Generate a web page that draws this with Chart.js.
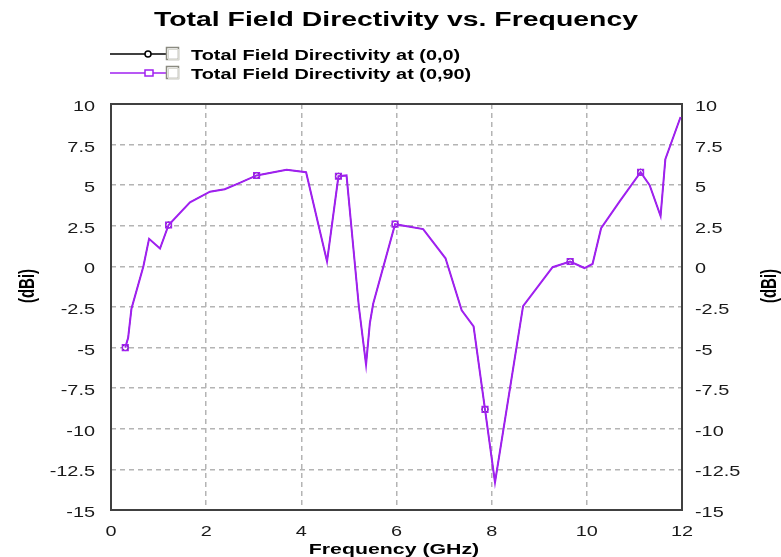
<!DOCTYPE html>
<html>
<head>
<meta charset="utf-8">
<script src="https://cdn.jsdelivr.net/npm/chart.js@4.4.1/dist/chart.umd.min.js"></script>
<style>
  html, body { margin: 0; padding: 0; background: #fff; }
  canvas { display: block; }
</style>
</head>
<body>
<canvas id="chart" width="781" height="557"></canvas>
<script>
/* Total Field Directivity vs. Frequency */
const FREQ_GHZ = [
  0.30, 0.36, 0.43, 0.68, 0.80, 1.03, 1.21, 1.66, 2.08, 2.39,
  2.67, 3.06, 3.69, 4.10, 4.54, 4.78, 4.95, 5.21, 5.36, 5.44,
  5.51, 5.97, 6.56, 7.03, 7.37, 7.62, 7.86, 8.07, 8.66, 9.28,
  9.65, 9.95, 10.12, 10.30, 10.69, 11.13, 11.32, 11.55, 11.65, 11.97
];
const DIR_0_0 = [
  -5.0, -4.4, -2.6, 0.0, 1.7, 1.1, 2.55, 3.95, 4.6, 4.75,
  5.1, 5.6, 5.95, 5.8, 0.3, 5.55, 5.6, -2.5, -6.05, -3.5,
  -2.3, 2.6, 2.3, 0.5, -2.7, -3.7, -8.8, -13.3, -2.45, -0.05,
  0.3, -0.1, 0.15, 2.35, 4.0, 5.8, 5.0, 3.1, 6.6, 9.2
];
const DIR_0_90 = [
  -5.0, -4.4, -2.6, 0.0, 1.7, 1.1, 2.55, 3.95, 4.6, 4.75,
  5.1, 5.6, 5.95, 5.8, 0.3, 5.55, 5.6, -2.5, -6.05, -3.5,
  -2.3, 2.6, 2.3, 0.5, -2.7, -3.7, -8.8, -13.3, -2.45, -0.05,
  0.3, -0.1, 0.15, 2.35, 4.0, 5.8, 5.0, 3.1, 6.6, 9.2
];
const MARKED = [0, 6, 11, 15, 21, 26, 30, 35];   // points that carry a marker
const X_TICKS = [0, 2, 4, 6, 8, 10, 12];
const Y_TICKS = [10, 7.5, 5, 2.5, 0, -2.5, -5, -7.5, -10, -12.5, -15];

const SERIES_NAMES = ['Total Field Directivity at (0,0)', 'Total Field Directivity at (0,90)'];
const PURPLE = '#a020f0';
const FONT = '"Liberation Sans", Arial, sans-serif';
const SX = 1.42;   // the original picture is stretched sideways

const toPoints = vals => FREQ_GHZ.map((f, i) => ({ x: f, y: vals[i] }));
const markerRadius = r => ctx => MARKED.includes(ctx.dataIndex) ? r : 0;

function wideText(ctx, text, x, y, align, rot) {
  ctx.save();
  ctx.translate(x, y);
  ctx.scale(SX, 1);
  if (rot) ctx.rotate(rot);
  ctx.textAlign = align;
  ctx.fillText(text, 0, 0);
  ctx.restore();
}

/* ── title, legend, tick labels, axis titles, frame ──────────────────── */
const decor = {
  id: 'decor',
  beforeDatasetsDraw(chart) {
    const { ctx, chartArea: a } = chart;
    ctx.save();
    ctx.setLineDash([]);
    ctx.strokeStyle = '#404040';
    ctx.lineWidth = 2;
    ctx.strokeRect(a.left, a.top, a.right - a.left, a.bottom - a.top);
    ctx.restore();
  },
  afterDraw(chart) {
    const { ctx, scales } = chart;
    ctx.save();
    ctx.fillStyle = '#000';
    ctx.textBaseline = 'alphabetic';

    ctx.font = 'bold 20px ' + FONT;
    wideText(ctx, 'Total Field Directivity vs. Frequency', 396, 26, 'center');

    // legend
    const rows = [
      { y: 54, color: '#000', shape: 'circle' },
      { y: 73, color: PURPLE, shape: 'rect' }
    ];
    rows.forEach((r, i) => {
      ctx.strokeStyle = r.color;
      ctx.lineWidth = 1.5;
      ctx.beginPath(); ctx.moveTo(110, r.y); ctx.lineTo(166, r.y); ctx.stroke();
      ctx.fillStyle = '#fff';
      if (r.shape === 'circle') {
        ctx.beginPath(); ctx.arc(148, r.y, 3, 0, Math.PI * 2); ctx.fill(); ctx.stroke();
      } else {
        ctx.fillRect(145, r.y - 3, 8, 6); ctx.strokeRect(145, r.y - 3, 8, 6);
      }
      ctx.strokeStyle = '#8a8a80'; ctx.lineWidth = 1.5;
      ctx.strokeRect(166.5, r.y - 6.5, 12, 12);
      ctx.strokeStyle = '#d8d8d0'; ctx.lineWidth = 1;
      ctx.strokeRect(168.5, r.y - 4.5, 10, 10);
      ctx.fillStyle = '#000';
      ctx.font = 'bold 14px ' + FONT;
      wideText(ctx, SERIES_NAMES[i], 191, r.y + 5.5, 'left');
    });

    // tick labels
    ctx.fillStyle = '#1a1a1a';
    ctx.font = '14px ' + FONT;
    Y_TICKS.forEach(v => {
      const py = scales.y.getPixelForValue(v) + 7;
      wideText(ctx, String(v), 95, py, 'right');
      wideText(ctx, String(v), 695, py, 'left');
    });
    X_TICKS.forEach(v => {
      wideText(ctx, String(v), scales.x.getPixelForValue(v), 536, 'center');
    });

    // axis titles
    ctx.fillStyle = '#000';
    ctx.font = 'bold 15px ' + FONT;
    wideText(ctx, 'Frequency (GHz)', 394, 554, 'center');
    ctx.textBaseline = 'middle';
    wideText(ctx, '(dBi)', 28, 286, 'center', -Math.PI / 2);
    wideText(ctx, '(dBi)', 770, 286, 'center', -Math.PI / 2);
    ctx.restore();
  }
};

const yAxis = (position, width, showGrid) => ({
  type: 'linear',
  position,
  min: -15,
  max: 10,
  afterBuildTicks: s => { s.ticks = Y_TICKS.map(v => ({ value: v })); },
  afterFit: s => { s.width = width; },
  grid: { display: showGrid, color: '#b4b4b4', lineWidth: 1.5, drawTicks: false },
  border: { display: false, dash: [5, 4] },
  ticks: { display: false }
});

new Chart(document.getElementById('chart'), {
  type: 'line',
  data: {
    datasets: [
      {
        label: SERIES_NAMES[0],
        data: toPoints(DIR_0_0),
        order: 1,
        borderColor: '#000',
        borderWidth: 1,
        backgroundColor: '#000',
        pointStyle: 'circle',
        pointRadius: markerRadius(3),
        pointBorderColor: '#000',
        pointBackgroundColor: '#fff',
        tension: 0,
        yAxisID: 'y'
      },
      {
        label: SERIES_NAMES[1],
        data: toPoints(DIR_0_90),
        order: 0,
        borderColor: PURPLE,
        borderWidth: 2,
        backgroundColor: PURPLE,
        pointStyle: 'rect',
        pointRadius: markerRadius(4),
        pointBorderColor: PURPLE,
        pointBorderWidth: 1.5,
        pointBackgroundColor: 'rgba(255,255,255,0)',
        tension: 0,
        yAxisID: 'y'
      }
    ]
  },
  options: {
    responsive: false,
    devicePixelRatio: 1,
    animation: false,
    layout: { padding: { top: 104, left: 0, right: 0, bottom: 0 } },
    plugins: { legend: { display: false }, title: { display: false }, tooltip: { enabled: false } },
    scales: {
      x: {
        type: 'linear',
        position: 'bottom',
        min: 0,
        max: 12,
        afterBuildTicks: s => { s.ticks = X_TICKS.map(v => ({ value: v })); },
        afterFit: s => { s.height = 47; },
        grid: { color: '#b4b4b4', lineWidth: 1.5, drawTicks: false },
        border: { display: false, dash: [5, 4] },
        ticks: { display: false }
      },
      y: yAxis('left', 111, true),
      y2: yAxis('right', 99, false)
    }
  },
  plugins: [decor]
});
</script>
</body>
</html>
